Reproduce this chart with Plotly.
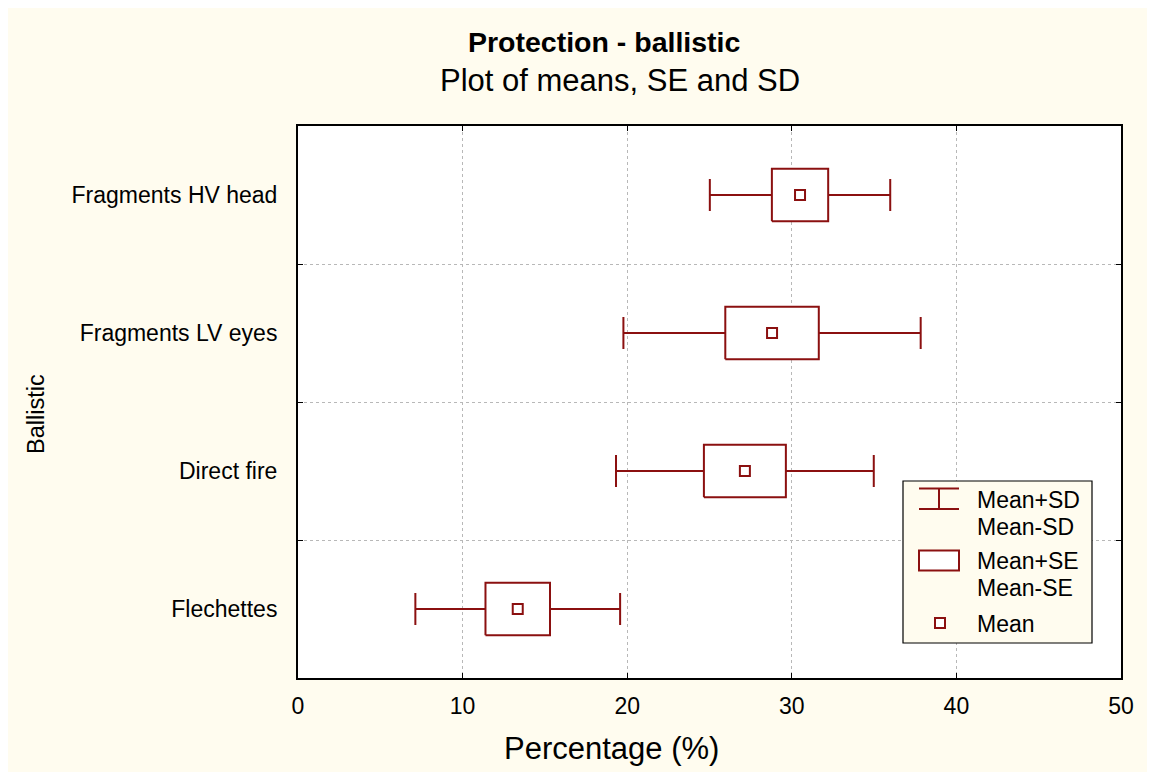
import plotly.graph_objects as go

categories = ["Flechettes", "Direct fire", "Fragments LV eyes", "Fragments HV head"]
means = [13.35, 27.15, 28.8, 30.5]
sd = [6.22, 7.83, 9.03, 5.48]
se = [1.96, 2.49, 2.84, 1.71]
x_ticks = [0, 10, 20, 30, 40, 50]

RED = "#8B1010"
CREAM = "#FFFCEF"
FONT = "Liberation Sans, Arial, sans-serif"

OFF = 8  # page offset of the figure inside the browser page
W, H = 1155 - OFF, 772 - OFF
# plot-area edges in page pixels
L, R, T, B = 298, 1121, 126, 678

def px(x):
    return (x - L) / (R - L)

def py(y):
    return (B - y) / (B - T)

pos = list(range(len(categories)))
half = 0.19

fig = go.Figure()

# SD whiskers
fig.add_trace(go.Scatter(
    x=means, y=pos, mode="markers",
    marker=dict(size=1, opacity=0),
    error_x=dict(type="data", array=sd, symmetric=True, color=RED, thickness=2, width=16),
    showlegend=False, hoverinfo="skip"))

# SE boxes
for m, s, p in zip(means, se, pos):
    fig.add_trace(go.Scatter(
        x=[m - s, m + s, m + s, m - s, m - s],
        y=[p - half, p - half, p + half, p + half, p - half],
        mode="lines", fill="toself", fillcolor="white",
        line=dict(color=RED, width=2), showlegend=False, hoverinfo="skip"))

# means
fig.add_trace(go.Scatter(
    x=means, y=pos, mode="markers",
    marker=dict(symbol="square", size=10, color="white", line=dict(color=RED, width=2)),
    showlegend=False))

shapes = [
    # legend box
    dict(type="rect", xref="paper", yref="paper", x0=px(903), x1=px(1092), y0=py(643), y1=py(481),
         fillcolor=CREAM, line=dict(color="black", width=1.2), layer="above"),
    # SD glyph
    dict(type="line", xref="paper", yref="paper", x0=px(919), x1=px(959), y0=py(488.5), y1=py(488.5),
         line=dict(color=RED, width=2)),
    dict(type="line", xref="paper", yref="paper", x0=px(919), x1=px(959), y0=py(509), y1=py(509),
         line=dict(color=RED, width=2)),
    dict(type="line", xref="paper", yref="paper", x0=px(939), x1=px(939), y0=py(488.5), y1=py(509),
         line=dict(color=RED, width=2)),
    # SE glyph
    dict(type="rect", xref="paper", yref="paper", x0=px(919), x1=px(959), y0=py(570.5), y1=py(550.5),
         fillcolor="white", line=dict(color=RED, width=2)),
    # Mean glyph
    dict(type="rect", xref="paper", yref="paper", x0=px(935), x1=px(945), y0=py(628), y1=py(618),
         fillcolor="white", line=dict(color=RED, width=2)),
]

ann = []
for txt, yy in [("Mean+SD", 500), ("Mean-SD", 527), ("Mean+SE", 561), ("Mean-SE", 588), ("Mean", 624)]:
    ann.append(dict(text=txt, xref="paper", yref="paper", x=px(975), y=py(yy), xanchor="left", yanchor="middle",
                    showarrow=False, font=dict(family=FONT, size=23, color="black")))
ann.append(dict(text="<b>Protection - ballistic</b>", xref="paper", yref="paper", x=px(604), y=py(42),
                xanchor="center", yanchor="middle", showarrow=False,
                font=dict(family=FONT, size=28.5, color="black")))
ann.append(dict(text="Plot of means, SE and SD", xref="paper", yref="paper", x=px(620), y=py(80),
                xanchor="center", yanchor="middle", showarrow=False,
                font=dict(family=FONT, size=31, color="black")))
ann.append(dict(text="Percentage (%)", xref="paper", yref="paper", x=px(611), y=py(748),
                xanchor="center", yanchor="middle", showarrow=False,
                font=dict(family=FONT, size=31, color="black")))
ann.append(dict(text="Ballistic", xref="paper", yref="paper", x=px(36), y=py(414), textangle=-90,
                xanchor="center", yanchor="middle", showarrow=False,
                font=dict(family=FONT, size=23.5, color="black")))

fig.update_layout(
    width=W, height=H,
    margin=dict(l=L - OFF, r=W - (R - OFF), t=T - OFF, b=H - (B - OFF), pad=0),
    paper_bgcolor=CREAM, plot_bgcolor="white",
    shapes=shapes, annotations=ann, showlegend=False,
    font=dict(family=FONT, size=23, color="black"),
)
fig.update_xaxes(
    range=[0, 50], tickvals=x_ticks, ticktext=[str(v) for v in x_ticks],
    showgrid=True, gridcolor="#b8b8b8", griddash="dot", gridwidth=1,
    zeroline=False, showline=True, linecolor="black", linewidth=2, mirror="ticks",
    ticks="inside", ticklen=5, tickcolor="black", ticklabelstandoff=6,
    tickfont=dict(family=FONT, size=23, color="black"),
)
fig.update_yaxes(
    range=[-0.5, 3.5], tickvals=pos, ticktext=categories, ticks="",
    showgrid=False, zeroline=False, showline=True, linecolor="black", linewidth=2, mirror="ticks",
    ticklabelstandoff=14, tickfont=dict(family=FONT, size=23, color="black"),
    minor=dict(tickvals=[p + 0.5 for p in pos[:-1]], showgrid=True, gridcolor="#b8b8b8",
               griddash="dot", gridwidth=1, ticks="inside", ticklen=5, tickcolor="black"),
)

fig.write_html("out.html")
